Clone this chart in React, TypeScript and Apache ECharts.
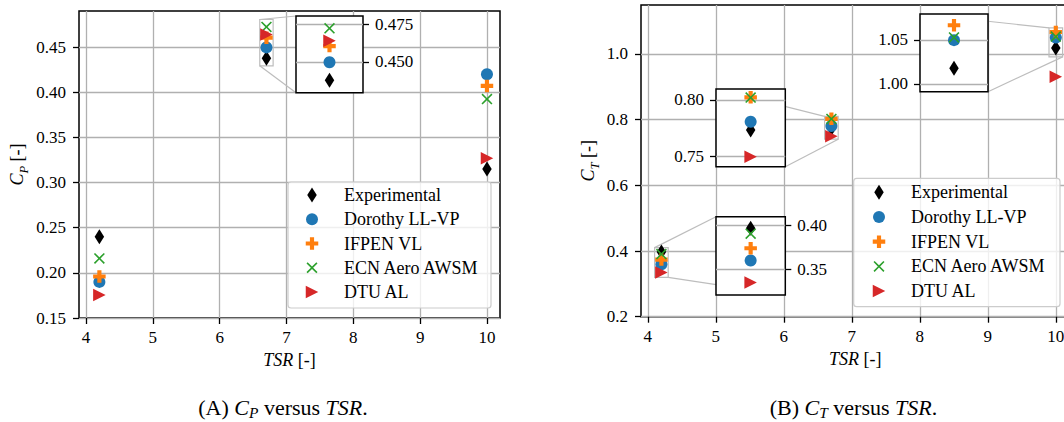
import React, { useEffect, useRef } from 'react';
import * as echarts from 'echarts';

// ---------------- data ----------------
const TSR = [4.2, 6.7, 10.0];
const SERIES_NAMES = ['Experimental', 'Dorothy LL-VP', 'IFPEN VL', 'ECN Aero AWSM', 'DTU AL'];

const CP_EXPERIMENTAL = [0.24, 0.4377, 0.315];
const CP_DOROTHY = [0.19, 0.4497, 0.42];
const CP_IFPEN = [0.196, 0.4605, 0.407];
const CP_ECN = [0.216, 0.4724, 0.3925];
const CP_DTU = [0.1755, 0.464, 0.327];

const CT_EXPERIMENTAL = [0.397, 0.7732, 1.0178];
const CT_DOROTHY = [0.3598, 0.7806, 1.0497];
const CT_IFPEN = [0.374, 0.8024, 1.0667];
const CT_ECN = [0.3908, 0.8022, 1.0528];
const CT_DTU = [0.3345, 0.7494, 0.9306];

const TSR_TICKS = [4, 5, 6, 7, 8, 9, 10];
const CP_TICKS = [0.15, 0.2, 0.25, 0.3, 0.35, 0.4, 0.45];
const CT_TICKS = [0.2, 0.4, 0.6, 0.8, 1.0];
const CP_ZOOM_TICKS = [0.45, 0.475];
const CT_ZOOM_LOW_TICKS = [0.35, 0.4];
const CT_ZOOM_MID_TICKS = [0.75, 0.8];
const CT_ZOOM_HIGH_TICKS = [1.0, 1.05];

// axis ranges
const CP_X_RANGE = [3.895, 10.195];
const CP_Y_RANGE = [0.15, 0.49];
const CT_X_RANGE = [3.9, 10.2];
const CT_Y_RANGE = [0.2, 1.149];
const CP_ZOOM_X = [6.6, 6.8];
const CP_ZOOM_Y = [0.4293, 0.4806];
const CT_ZOOM_LOW_X = [4.1, 4.3];
const CT_ZOOM_LOW_Y = [0.32, 0.4104];
const CT_ZOOM_MID_X = [6.6, 6.8];
const CT_ZOOM_MID_Y = [0.7405, 0.8098];
const CT_ZOOM_HIGH_X = [9.9, 10.1];
const CT_ZOOM_HIGH_Y = [0.991, 1.0795];

const CP_VALUES = [CP_EXPERIMENTAL, CP_DOROTHY, CP_IFPEN, CP_ECN, CP_DTU];
const CT_VALUES = [CT_EXPERIMENTAL, CT_DOROTHY, CT_IFPEN, CT_ECN, CT_DTU];

// ---------------- style ----------------
const FONT = "'Liberation Serif', 'DejaVu Serif', serif";
const GRID_COLOR = '#b0b0b0';
const ZOOM_COLOR = '#bdbdbd';
const COLORS = ['#000000', '#1f77b4', '#ff7f0e', '#2ca02c', '#d62728'];

type Pt = [number, number];
const shape = (pts: Pt[], dx: number, dy: number) =>
  pts.map((p, i) => (i === 0 ? 'M' : 'L') + (p[0] + dx).toFixed(2) + ',' + (p[1] + dy).toFixed(2)).join('') + 'Z';

const DIAMOND_PTS: Pt[] = [[0, -7.5], [4.75, 0], [0, 7.5], [-4.75, 0]];
const PLUS_PTS: Pt[] = [
  [-2.08, -6.25], [2.08, -6.25], [2.08, -2.08], [6.25, -2.08], [6.25, 2.08], [2.08, 2.08],
  [2.08, 6.25], [-2.08, 6.25], [-2.08, 2.08], [-6.25, 2.08], [-6.25, -2.08], [-2.08, -2.08],
];
const XA = 5.5;
const XD = 1.13;
const X_PTS: Pt[] = [
  [-XA, -XA + XD], [-XA + XD, -XA], [0, -XD], [XA - XD, -XA], [XA, -XA + XD], [XD, 0],
  [XA, XA - XD], [XA - XD, XA], [0, XD], [-XA + XD, XA], [-XA, XA - XD], [-XD, 0],
];
const TRI_PTS: Pt[] = [[-6.25, -6.25], [6.25, 0], [-6.25, 6.25]];

const MARKERS: { symbol: string; size: number | number[] }[] = [
  { symbol: 'path://' + shape(DIAMOND_PTS, 0, 0), size: [9.5, 15] },
  { symbol: 'circle', size: 12 },
  { symbol: 'path://' + shape(PLUS_PTS, 0, 0), size: 12.5 },
  { symbol: 'path://' + shape(X_PTS, 0, 0), size: 11 },
  { symbol: 'path://' + shape(TRI_PTS, 0, 0), size: [12.5, 12.5] },
];

const ICON_BOX = 'path://M0,0M24,16';
const LEGEND_ICONS = [
  ICON_BOX + shape(DIAMOND_PTS, 12, 8),
  ICON_BOX + 'M18,8A6,6,0,1,1,6,8A6,6,0,1,1,18,8Z',
  ICON_BOX + shape(PLUS_PTS, 12, 8),
  ICON_BOX + shape(X_PTS, 12, 8),
  ICON_BOX + shape(TRI_PTS, 12, 8),
];

const rich = (fs: number, lh: number, subPad: number) => ({
  n: { fontFamily: FONT, fontSize: fs, color: '#000', lineHeight: lh, verticalAlign: 'top' },
  it: { fontFamily: FONT, fontStyle: 'italic', fontSize: fs, color: '#000', lineHeight: lh, verticalAlign: 'top' },
  sub: {
    fontFamily: FONT, fontStyle: 'italic', fontSize: fs * 0.7, color: '#000',
    lineHeight: fs * 0.7, padding: [subPad, 0, 0, 0], verticalAlign: 'top',
  },
});

// grid layout: 0 CP main, 1 CP zoom, 2 CT main, 3 CT zoom low, 4 CT zoom mid, 5 CT zoom high
const GRIDS = [
  { left: 79, top: 11, width: 421, height: 307 },
  { left: 296, top: 16, width: 67, height: 76.7 },
  { left: 641, top: 5, width: 428.4, height: 311.7 },
  { left: 716, top: 216.7, width: 69.3, height: 78.3 },
  { left: 716, top: 89, width: 69.3, height: 77.7 },
  { left: 920, top: 14, width: 68, height: 77.7 },
];

const ZOOMS = [
  { grid: 1, main: 0, x: CP_ZOOM_X, y: CP_ZOOM_Y, ticks: CP_ZOOM_TICKS, digits: 3, side: 'right', corners: ['ul', 'll'] },
  { grid: 3, main: 2, x: CT_ZOOM_LOW_X, y: CT_ZOOM_LOW_Y, ticks: CT_ZOOM_LOW_TICKS, digits: 2, side: 'right', corners: ['ul', 'lr'] },
  { grid: 4, main: 2, x: CT_ZOOM_MID_X, y: CT_ZOOM_MID_Y, ticks: CT_ZOOM_MID_TICKS, digits: 2, side: 'left', corners: ['ul', 'lr'] },
  { grid: 5, main: 2, x: CT_ZOOM_HIGH_X, y: CT_ZOOM_HIGH_Y, ticks: CT_ZOOM_HIGH_TICKS, digits: 2, side: 'left', corners: ['ul', 'lr'] },
];

const corner = (xr: number[], yr: number[], c: string) => {
  if (c === 'ul') return [xr[0], yr[1]];
  if (c === 'll') return [xr[0], yr[0]];
  if (c === 'lr') return [xr[1], yr[0]];
  return [xr[1], yr[1]];
};

const labelStyle = { color: '#000', fontFamily: FONT, fontSize: 17 };
const tickStyle = { color: '#000', width: 1.3 };

function scatterSeries(values: number[][], gi: number, z: number, zoomAreas?: number[][][]) {
  return SERIES_NAMES.map((name, i) => {
    const s: any = {
      type: 'scatter',
      name,
      xAxisIndex: gi,
      yAxisIndex: gi,
      data: TSR.map((t, k) => [t, values[i][k]]),
      symbol: MARKERS[i].symbol,
      symbolSize: MARKERS[i].size,
      itemStyle: { color: COLORS[i], opacity: 1 },
      z,
      silent: true,
      clip: true,
      emphasis: { disabled: true },
    };
    if (i === 0 && zoomAreas) {
      s.markArea = {
        silent: true,
        itemStyle: { color: 'rgba(0,0,0,0)', borderColor: ZOOM_COLOR, borderWidth: 1.2 },
        label: { show: false },
        data: zoomAreas.map((a) => [{ coord: [a[0][0], a[1][0]] }, { coord: [a[0][1], a[1][1]] }]),
      };
    }
    return s;
  });
}

function buildOption() {
  const grid = GRIDS.map((g, i) => ({
    ...g,
    show: true,
    borderColor: '#000',
    borderWidth: 1.5,
    backgroundColor: i === 0 || i === 2 ? 'transparent' : '#ffffff',
    z: i === 0 || i === 2 ? 0 : 2,
    containLabel: false,
    outerBoundsMode: 'none',
  }));

  const mainX = (gi: number, range: number[]) => ({
    gridIndex: gi,
    type: 'value',
    min: range[0],
    max: range[1],
    axisLine: { show: false, onZero: false },
    axisTick: { show: true, inside: false, length: 6, lineStyle: tickStyle, customValues: TSR_TICKS },
    axisLabel: { ...labelStyle, margin: 11, customValues: TSR_TICKS, formatter: (v: number) => String(v) },
    splitLine: { show: true, lineStyle: { color: GRID_COLOR, width: 1.3 } },
    name: '{it|TSR}{n| [-]}',
    nameLocation: 'middle',
    nameGap: 33,
    nameMoveOverlap: false,
    nameTextStyle: { fontFamily: FONT, fontSize: 18, color: '#000', rich: rich(18, 21, 9) },
    z: 0,
  });
  const mainY = (gi: number, range: number[], ticks: number[], digits: number, sub: string, gap: number) => ({
    gridIndex: gi,
    type: 'value',
    min: range[0],
    max: range[1],
    axisLine: { show: false, onZero: false },
    axisTick: { show: true, inside: false, length: 6, lineStyle: tickStyle, customValues: ticks },
    axisLabel: { ...labelStyle, margin: 13, customValues: ticks, formatter: (v: number) => v.toFixed(digits) },
    splitLine: { show: true, lineStyle: { color: GRID_COLOR, width: 1.3 } },
    name: '{it|C}{sub|' + sub + '}{n| [-]}',
    nameLocation: 'middle',
    nameRotate: 90,
    nameGap: gap,
    nameMoveOverlap: false,
    nameTextStyle: { fontFamily: FONT, fontSize: 18, color: '#000', rich: rich(18, 21, 9) },
    z: 0,
  });

  const xAxis: any[] = [];
  const yAxis: any[] = [];
  xAxis[0] = mainX(0, CP_X_RANGE);
  yAxis[0] = mainY(0, CP_Y_RANGE, CP_TICKS, 2, 'P', 50);
  xAxis[2] = mainX(2, CT_X_RANGE);
  yAxis[2] = mainY(2, CT_Y_RANGE, CT_TICKS, 1, 'T', 41);
  ZOOMS.forEach((zm) => {
    xAxis[zm.grid] = { gridIndex: zm.grid, type: 'value', min: zm.x[0], max: zm.x[1], show: false };
    yAxis[zm.grid] = {
      gridIndex: zm.grid,
      type: 'value',
      min: zm.y[0],
      max: zm.y[1],
      position: zm.side,
      axisLine: { show: false, onZero: false },
      axisTick: { show: true, inside: false, length: 6, lineStyle: tickStyle, customValues: zm.ticks },
      axisLabel: { ...labelStyle, margin: 12, customValues: zm.ticks, formatter: (v: number) => v.toFixed(zm.digits) },
      splitLine: { show: true, lineStyle: { color: GRID_COLOR, width: 1.3 } },
      z: 3,
    };
  });

  const cpZoomAreas = ZOOMS.filter((z) => z.main === 0).map((z) => [z.x, z.y]);
  const ctZoomAreas = ZOOMS.filter((z) => z.main === 2).map((z) => [z.x, z.y]);

  const series = [
    ...scatterSeries(CP_VALUES, 0, 2, cpZoomAreas),
    ...scatterSeries(CP_VALUES, 1, 4),
    ...scatterSeries(CT_VALUES, 2, 2, ctZoomAreas),
    ...scatterSeries(CT_VALUES, 3, 4),
    ...scatterSeries(CT_VALUES, 4, 4),
    ...scatterSeries(CT_VALUES, 5, 4),
  ];

  const legendData = SERIES_NAMES.map((name, i) => ({
    name,
    icon: LEGEND_ICONS[i],
    itemStyle: { color: COLORS[i], borderWidth: 0 },
  }));
  const legendBase = {
    orient: 'vertical',
    itemWidth: 24,
    itemHeight: 16,
    padding: 0,
    symbolKeepAspect: true,
    selectedMode: false,
    z: 6,
    textStyle: { fontFamily: FONT, fontSize: 18, color: '#000', lineHeight: 20, padding: [0, 0, 0, 15] },
    data: legendData,
  };

  return {
    animation: false,
    backgroundColor: '#ffffff',
    textStyle: { fontFamily: FONT },
    grid,
    xAxis,
    yAxis,
    legend: [
      { ...legendBase, left: 300, top: 185, itemGap: 4.25 },
      { ...legendBase, left: 867, top: 182.3, itemGap: 4.7 },
    ],
    series,
  };
}

export default function App() {
  const ref = useRef<HTMLDivElement>(null);
  useEffect(() => {
    if (!ref.current) return;
    const chart = echarts.init(ref.current, null, { renderer: 'svg' });
    chart.setOption(buildOption() as any);

    const elements: any[] = [];
    // connector lines between zoom rectangles and insets
    ZOOMS.forEach((zm) => {
      zm.corners.forEach((c) => {
        const pt = corner(zm.x, zm.y, c);
        const p1 = chart.convertToPixel({ gridIndex: zm.main } as any, pt) as number[];
        const p2 = chart.convertToPixel({ gridIndex: zm.grid } as any, pt) as number[];
        elements.push({
          type: 'line',
          silent: true,
          z: 1,
          shape: { x1: p1[0], y1: p1[1], x2: p2[0], y2: p2[1] },
          style: { stroke: ZOOM_COLOR, lineWidth: 1.2 },
        });
      });
    });
    // legend frames
    [
      { x: 288, y: 182, width: 203, height: 126 },
      { x: 853.7, y: 178.3, width: 206.3, height: 128.4 },
    ].forEach((r) => {
      elements.push({
        type: 'rect',
        silent: true,
        z: 5,
        shape: { ...r, r: 3 },
        style: { fill: 'rgba(255,255,255,0.8)', stroke: '#cccccc', lineWidth: 1.2 },
      });
    });
    // captions
    [
      { x: 283, text: '{n|(A) }{it|C}{sub|P}{n| versus }{it|TSR}{n|.}' },
      { x: 853.5, text: '{n|(B) }{it|C}{sub|T}{n| versus }{it|TSR}{n|.}' },
    ].forEach((c) => {
      elements.push({
        type: 'text',
        silent: true,
        z: 6,
        x: c.x,
        y: 408.5,
        style: { text: c.text, rich: rich(22, 24, 8.6), align: 'center', verticalAlign: 'middle', fontFamily: FONT, fontSize: 22 },
      });
    });
    chart.setOption({ graphic: { elements } } as any);
    return () => chart.dispose();
  }, []);
  return (
    <div style={{ position: 'fixed', left: 0, top: 0, width: 1064, height: 422, overflow: 'hidden', background: '#fff' }}>
      <div ref={ref} style={{ width: 1080, height: 422 }} />
    </div>
  );
}
